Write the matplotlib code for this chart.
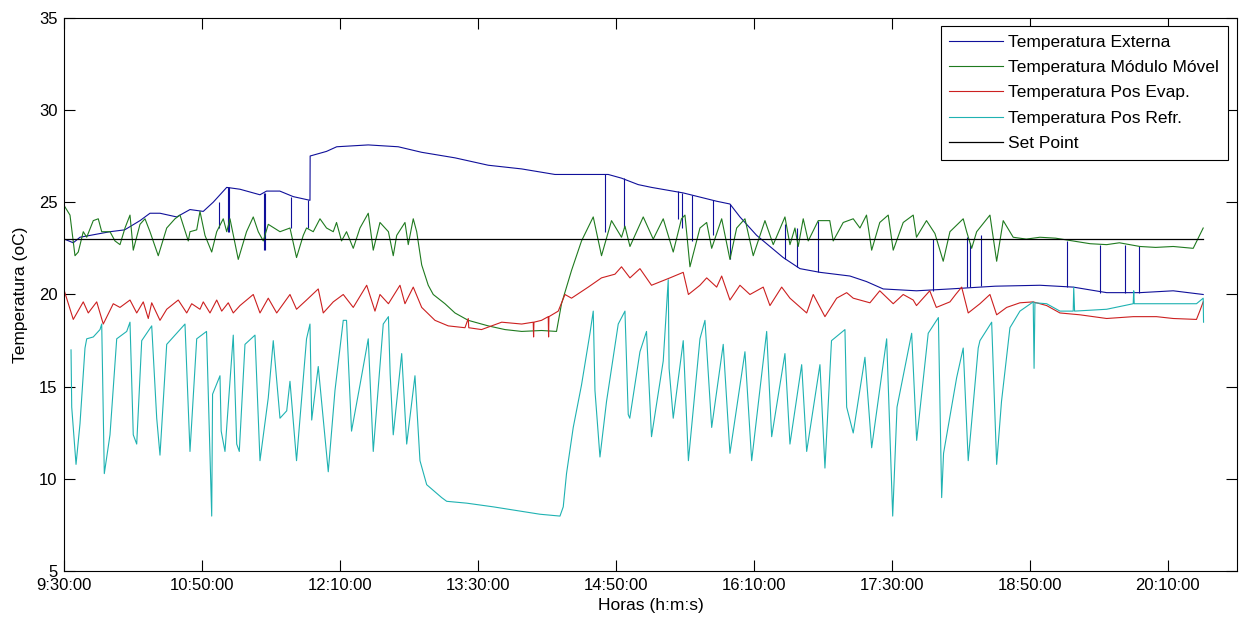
import matplotlib
matplotlib.use("Agg")
import matplotlib.pyplot as plt

plt.rcParams['font.family'] = ['Liberation Sans', 'DejaVu Sans']

# tempo em minutos a partir das 9:30:00
tick_min = [0, 80, 160, 240, 320, 400, 480, 560, 640]
tick_lab = ['9:30:00', '10:50:00', '12:10:00', '13:30:00', '14:50:00',
            '16:10:00', '17:30:00', '18:50:00', '20:10:00']

ext_t = [0, 5.2, 9.1, 26.5, 35, 43.9, 49.7, 55.5, 65.2, 72.9, 80.6, 86.4, 94.2,
         101.9, 113.5, 117.3, 125, 132.8, 142.5, 142.6, 152.1, 158, 176.3, 193.7,
         207.3, 226.6, 245.9, 265.3, 284.6, 303.9, 315.5, 323.2, 332.9, 340.6, 359,
         378.4, 386.1, 391.9, 401.6, 417, 426.7, 438.3, 455.7, 465.3, 475, 494.3,
         513.7, 540, 565.9, 585.2, 604.6, 623.9, 643.2, 660.6]
ext_v = [23.0, 22.8, 23.1, 23.4, 23.5, 24.0, 24.4, 24.4, 24.2, 24.6, 24.5, 25.0, 25.8,
         25.7, 25.4, 25.6, 25.6, 25.3, 25.1, 27.5, 27.75, 28.0, 28.1, 28.0,
         27.7, 27.4, 27.0, 26.8, 26.5, 26.5, 26.5, 26.3, 25.95, 25.8, 25.5,
         25.05, 24.9, 24.2, 23.2, 22.0, 21.4, 21.2, 21.0, 20.7, 20.3, 20.2,
         20.3, 20.45, 20.5, 20.4, 20.1, 20.1, 20.2, 20.0]

# falhas do sensor externo (tempo, de, ate)
glitch_t = [89.9, 95.1, 95.6, 115.8, 116.3, 131.5, 141.5, 313.6, 324.8, 356.1, 358,
            363.9, 376.4, 386.1, 418, 424.8, 437.3, 504, 523.4, 525.3, 531.5,
            581.4, 600.7, 615.2, 623.5]
glitch_from = [25.0, 25.8, 25.8, 25.5, 25.5, 25.3, 25.1, 26.5, 26.3, 25.6, 25.5,
               25.4, 25.1, 24.9, 21.9, 21.5, 21.2, 20.2, 20.4, 20.4, 20.45,
               20.4, 20.1, 20.1, 20.1]
glitch_to = [23.6, 23.4, 23.4, 22.4, 22.4, 23.6, 23.6, 23.4, 23.6, 24.1, 23.6,
             22.9, 23.2, 21.9, 23.8, 23.6, 24.0, 23.0, 23.1, 22.8, 23.2,
             22.9, 22.7, 22.7, 22.6]

mod_t = [0, 3.3, 6.2, 8.1, 11, 13, 16.8, 19.7, 21.7, 26.5, 29.4, 32.3, 35.2, 38.1, 40,
         43.9, 46.8, 49.7, 54.5, 59.4, 64.2, 67.1, 71.9, 72.9, 76.8, 78.7, 81.6, 85.5,
         88.4, 92.2, 94.2, 96.1, 100.9, 105.7, 109.6, 112.5, 115.4, 118.3, 125.1,
         130.9, 134.7, 138.6, 140.5, 144.4, 148.3, 152.1, 156, 157.9, 160.8, 163.7,
         167.6, 171.5, 176.3, 179.2, 183.1, 188, 190.8, 192.8, 197.6, 199.5, 202.4,
         204.4, 207.3, 211.1, 214, 220.8, 226.6, 234.3, 245.9, 255.6, 265.3, 276.8,
         285.5, 288.4, 294.2, 300, 306.8, 311.6, 317.4, 323.2, 325.2, 328.1, 335.8,
         341.6, 347.4, 353.2, 358, 360, 362.9, 368.7, 372.6, 375.5, 381.3, 386.1,
         390, 394.8, 399.6, 406.4, 411.2, 418, 420.9, 423.8, 425.7, 428.6, 431.5,
         437.3, 444, 446, 451.8, 457.6, 461.5, 465.3, 468.3, 473, 477.9, 480.8,
         486.6, 492.4, 494.3, 496.2, 500.1, 505, 509.8, 513.7, 521.4, 523.4, 526.3,
         529.2, 536.9, 540.8, 544.6, 550.4, 558, 565.9, 575, 585.2, 595, 604.6, 612,
         623.9, 633, 643.2, 654.8, 659.6, 660.6]
mod_v = [24.8, 24.3, 22.1, 22.3, 23.4, 23.1, 24.0, 24.1, 23.4, 23.4, 22.9, 22.7, 23.6,
         24.3, 22.4, 23.8, 24.1, 23.4, 22.1, 23.6, 24.1, 24.3, 22.9, 23.4, 23.5, 24.5,
         23.2, 22.3, 23.4, 24.1, 23.4, 24.1, 21.9, 23.4, 24.2, 23.4, 22.9, 23.8, 23.4,
         23.6, 22.0, 23.2, 23.6, 23.4, 24.1, 23.6, 23.4, 23.9, 22.9, 23.4,
         22.5, 23.6, 24.4, 22.4, 23.9, 23.4, 22.1, 23.2, 23.9, 22.7, 24.1,
         23.4, 21.6, 20.5, 20.0, 19.5, 19.0, 18.6, 18.3, 18.1, 18.0, 18.05,
         18.0, 19.5, 21.3, 22.9, 24.2, 22.1, 24.0, 23.1, 23.7, 22.6, 24.2,
         23.0, 24.1, 22.3, 24.1, 24.3, 21.5, 23.6, 23.9, 22.5, 24.1, 21.9,
         23.6, 24.1, 22.1, 24.0, 22.7, 24.2, 22.7, 23.6, 22.6, 24.1, 22.9,
         24.0, 24.0, 22.9, 23.9, 24.1, 23.6, 24.3, 22.4, 23.9, 24.3, 22.4,
         23.9, 24.3, 23.1, 23.4, 24.0, 23.3, 21.8, 23.4, 24.1, 23.4, 22.5,
         23.4, 24.3, 21.8, 24.0, 23.1, 23.0, 23.1, 23.05, 22.9, 22.75, 22.7, 22.8,
         22.6, 22.55, 22.6, 22.5, 23.4, 23.6]

evap_t = [0, 5.2, 11, 13.9, 18.8, 22.6, 28.4, 32.3, 38.1, 42, 45.8, 48.7, 50.7, 55.5,
          59.4, 66.1, 71, 73.9, 78.7, 80.6, 84.5, 88.4, 91.3, 95.1, 98, 101.9, 109.6,
          113.5, 118.3, 123.2, 130.9, 134.7, 140.5, 147.3, 150.2, 156, 161.8, 167.6,
          175.4, 180.2, 183.1, 188, 194.7, 197.6, 202.4, 207.3, 215, 222.7, 232.4,
          234.3, 234.6, 242, 253.7, 265.3, 272, 272.2, 272.4, 276.8, 280.7, 280.9,
          281.1, 286.5, 290.4, 294.2, 303.9, 311.6, 319.4, 323.2, 328.1, 333.9, 340.6,
          351.3, 359, 362, 368.7, 372.6, 378.4, 381.3, 386.1, 391.9, 397.7, 405.4,
          409.3, 416.1, 420.9, 430.6, 434.4, 441.2, 448, 453.8, 457.6, 467.3, 473,
          480.8, 486.6, 492.4, 494.3, 502, 505.8, 513.7, 517, 520.5, 524.3, 531.1,
          536.9, 540.8, 546.6, 554.3, 562, 569.8, 577.5, 589.1, 604.6, 620, 633.5,
          643.2, 656.7, 658.6, 660.6]
evap_v = [20.2, 18.65, 19.6, 19.0, 19.6, 18.4, 19.5, 19.3, 19.7, 19.0, 19.6, 18.7, 19.55,
          18.6, 19.2, 19.7, 19.0, 19.5, 19.2, 19.6, 19.0, 19.7, 19.1, 19.55, 19.0, 19.4,
          20.0, 19.0, 19.8, 19.0, 20.0, 19.2, 19.7, 20.3, 19.0, 19.6, 20.0, 19.3,
          20.5, 19.1, 20.0, 19.5, 20.5, 19.5, 20.4, 19.3, 18.6, 18.3, 18.2,
          18.7, 18.2, 18.1, 18.5, 18.4, 18.5, 17.7, 18.5, 18.6, 18.8, 17.7,
          18.8, 19.1, 20.0, 19.8, 20.4, 20.9, 21.1, 21.5, 20.9, 21.4, 20.5,
          20.9, 21.2, 20.0, 20.5, 20.9, 20.4, 21.0, 19.7, 20.5, 20.0, 20.4,
          19.4, 20.4, 19.8, 19.0, 20.0, 18.8, 19.8, 20.1, 19.8, 19.55, 20.2,
          19.5, 20.0, 19.7, 19.4, 20.2, 19.3, 19.6, 20.0, 20.4, 19.0, 19.5,
          20.0, 18.9, 19.3, 19.55, 19.6, 19.4, 19.0, 18.9, 18.7, 18.8, 18.8,
          18.7, 18.65, 19.1, 19.6]

refr_t = [3.9, 4.3, 6.8, 9.1, 12, 13, 16.8, 20.7, 21.7, 23.2, 26.5, 30.4, 36.2, 38.1, 40,
          42, 44.9, 50.7, 53.6, 55.5, 59.4, 66.1, 70, 72.9, 76.8, 82.5, 85.5, 86, 90.3,
          91, 93.2, 98, 100, 101.5, 104.8, 110.6, 113.5, 118.3, 121.2, 125.1, 129,
          130.9, 134.7, 140.5, 142.5, 143.5, 147.3, 153.1, 157, 161.8, 163.7, 166.6,
          171.5, 176.3, 179.2, 185, 188, 189, 190.8, 195.7, 198.6, 203.4, 206.3, 210.2,
          218.9, 221.8, 233.4, 248.8, 262.4, 275.9, 287.5, 289.4, 291.3, 295.2, 300,
          304.9, 306.8, 307.8, 310.7, 314.5, 321.3, 325.2, 327.1, 328, 333.9, 337.7,
          340.6, 347.4, 350.3, 350.8, 353.2, 359, 362, 368.7, 371.6, 375.5, 382.2,
          386.1, 394.8, 398.7, 407.4, 410.3, 418, 420.9, 427.7, 430.6, 438.3, 441.2,
          445, 452.8, 453.8, 457.6, 464.4, 468.3, 477, 480.5, 483, 491.5, 494.4,
          501.1, 507, 508.9, 510, 517.6, 521.4, 524.3, 530.1, 531.1, 537.9, 540.8,
          543.6, 548.5, 554.3, 562, 562.5, 563, 569.8, 577.5, 585.2, 585.5, 586,
          604.6, 620, 620.3, 620.6, 643.2, 656.7, 660.6, 660.8]
refr_v = [17.0, 13.9, 10.8, 13.0, 17.1, 17.6, 17.7, 18.1, 18.4, 10.3, 12.4, 17.6, 18.0,
          18.5, 12.4, 11.9, 17.5, 18.3, 13.3, 11.3, 17.3, 18.0, 18.4, 11.5, 17.6, 18.0,
          8.0, 14.6, 15.6, 12.6, 11.5, 17.8, 11.9, 11.5, 17.3, 17.8, 11.0, 14.4, 17.5,
          13.3, 13.7, 15.3, 11.0, 17.6, 18.4, 13.2, 16.1, 10.4, 14.8, 18.6, 18.6, 12.6,
          15.1, 17.6, 11.5, 18.4, 18.8, 15.7, 12.4, 16.8, 11.9, 15.6, 11.0, 9.7,
          9.0, 8.8, 8.7, 8.5, 8.3, 8.1, 8.0, 8.5, 10.3, 12.8, 15.1,
          17.9, 19.1, 14.8, 11.2, 14.2, 18.4, 19.1, 13.5, 13.3, 16.9, 18.0,
          12.3, 16.4, 20.8, 16.0, 13.3, 17.5, 11.0, 17.6, 18.6, 12.8, 17.3,
          11.4, 16.9, 11.0, 18.0, 12.3, 16.8, 11.9, 16.2, 11.5, 16.2, 10.6,
          17.5, 18.1, 13.9, 12.5, 16.6, 11.7, 17.6, 8.0, 13.9, 17.9, 12.1,
          17.9, 18.75, 9.0, 11.4, 15.5, 17.1, 11.0, 17.1, 17.5, 18.5, 10.8,
          14.2, 18.2, 19.1, 19.6, 16.0, 19.55, 19.5, 19.1, 19.1, 20.4, 19.1,
          19.2, 19.5, 20.2, 19.5, 19.5, 19.5, 19.8, 18.5]

set_point = 23.0
set_t = [0, 660.6]

fig = plt.figure(figsize=(12.39, 6.23), dpi=100)
ax = fig.add_axes([0.0519, 0.0827, 0.9462, 0.8892])

l1, = ax.plot(ext_t, ext_v, color='#10109a', lw=0.8)
ax.vlines(glitch_t, glitch_from, glitch_to, color='#10109a', lw=0.8)
l2, = ax.plot(mod_t, mod_v, color='#1f7a1f', lw=0.8)
l3, = ax.plot(evap_t, evap_v, color='#cc2020', lw=0.8)
l4, = ax.plot(refr_t, refr_v, color='#1fb2b2', lw=0.8)
l5, = ax.plot(set_t, [set_point, set_point], color='black', lw=0.9)

ax.set_xlim(0, 680)
ax.set_ylim(5, 35)
ax.set_xticks(tick_min)
ax.set_xticklabels(tick_lab)
ax.set_yticks([5, 10, 15, 20, 25, 30, 35])
ax.tick_params(direction='in', length=8, width=0.8, top=True, right=True,
               labelsize=12, pad=5)
for s in ax.spines.values():
    s.set_linewidth(0.8)

ax.set_xlabel('Horas (h:m:s)', fontsize=12.5, labelpad=3)
ax.set_ylabel('Temperatura (oC)', fontsize=12.5, labelpad=8)

leg = ax.legend([l1, l2, l3, l4, l5],
                ['Temperatura Externa', 'Temperatura Módulo Móvel',
                 'Temperatura Pos Evap.', 'Temperatura Pos Refr.', 'Set Point'],
                loc='upper right', fontsize=12.5, handlelength=3.1,
                handletextpad=0.3, labelspacing=0.58, borderaxespad=0.5,
                fancybox=False, framealpha=1, borderpad=0.5)
leg.get_frame().set_edgecolor('black')
leg.get_frame().set_linewidth(0.8)

fig.savefig('out.png', dpi=100)
